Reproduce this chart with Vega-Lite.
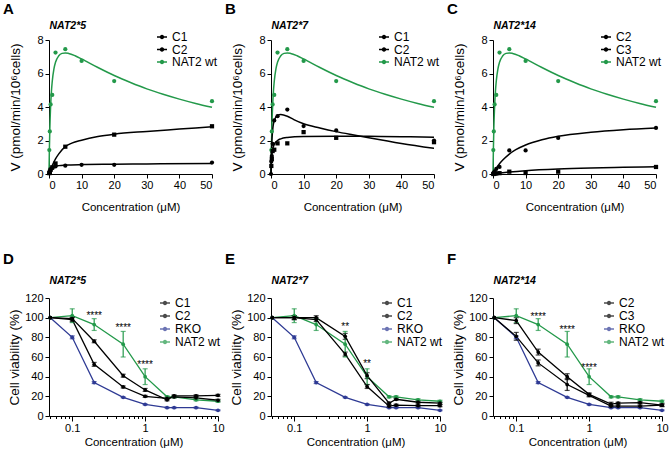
{
"$schema": "https://vega.github.io/schema/vega-lite/v6.json",
"padding": {"left": 3, "top": 2, "right": 2, "bottom": 0},
"background": "white",
"config": {
  "font": "Liberation Sans",
  "view": {"stroke": null},
  "axis": {"grid": false, "domainColor": "#000", "tickColor": "#000", "labelColor": "#000", "titleColor": "#000", "labelFontSize": 11, "titleFontWeight": "normal", "tickSize": 4, "labelPadding": 2, "labelOverlap": false},
  "axisX": {"titleFontSize": 11.5, "labelPadding": 1},
  "axisY": {"titleFontSize": 13.5, "labelOverlap": false, "labelFlush": false},
  "legend": {"labelFontSize": 12, "padding": 0, "rowPadding": 0.5, "symbolStrokeWidth": 1.5, "symbolSize": 100, "labelOffset": 4, "labelColor": "#000", "symbolType": "M-1,0H1M-0.3,0A0.3,0.3,0,1,1,0.3,0A0.3,0.3,0,1,1,-0.3,0M-0.1,0A0.1,0.1,0,1,1,0.1,0A0.1,0.1,0,1,1,-0.1,0"},
  "title": {"color": "#000", "anchor": "start", "frame": "group", "dx": -46, "fontSize": 15, "fontWeight": "bold", "offset": 3}
},
"datasets": {
  "kfit": [
    {"p":"all","s":"NAT2 wt","c":0,"v":0},{"p":"all","s":"NAT2 wt","c":0.1,"v":1.29},{"p":"all","s":"NAT2 wt","c":0.25,"v":2.64},{"p":"all","s":"NAT2 wt","c":0.5,"v":4.07},{"p":"all","s":"NAT2 wt","c":0.75,"v":4.95},{"p":"all","s":"NAT2 wt","c":1,"v":5.54},{"p":"all","s":"NAT2 wt","c":1.5,"v":6.26},{"p":"all","s":"NAT2 wt","c":2,"v":6.67},{"p":"all","s":"NAT2 wt","c":3,"v":7.06},{"p":"all","s":"NAT2 wt","c":4,"v":7.2},{"p":"all","s":"NAT2 wt","c":5,"v":7.23},{"p":"all","s":"NAT2 wt","c":6,"v":7.2},{"p":"all","s":"NAT2 wt","c":8,"v":7.06},{"p":"all","s":"NAT2 wt","c":10,"v":6.87},{"p":"all","s":"NAT2 wt","c":15,"v":6.36},{"p":"all","s":"NAT2 wt","c":20,"v":5.88},{"p":"all","s":"NAT2 wt","c":25,"v":5.46},{"p":"all","s":"NAT2 wt","c":30,"v":5.08},{"p":"all","s":"NAT2 wt","c":35,"v":4.76},{"p":"all","s":"NAT2 wt","c":40,"v":4.47},{"p":"all","s":"NAT2 wt","c":45,"v":4.21},{"p":"all","s":"NAT2 wt","c":50,"v":3.98},
    {"p":"A","s":"C1","c":0,"v":0},{"p":"A","s":"C1","c":0.5,"v":0.27},{"p":"A","s":"C1","c":1,"v":0.5},{"p":"A","s":"C1","c":2,"v":0.9},{"p":"A","s":"C1","c":3,"v":1.2},{"p":"A","s":"C1","c":5,"v":1.63},{"p":"A","s":"C1","c":7,"v":1.84},{"p":"A","s":"C1","c":10,"v":2.02},{"p":"A","s":"C1","c":15,"v":2.24},{"p":"A","s":"C1","c":20,"v":2.38},{"p":"A","s":"C1","c":30,"v":2.54},{"p":"A","s":"C1","c":40,"v":2.68},{"p":"A","s":"C1","c":50,"v":2.82},
    {"p":"A","s":"C2","c":0,"v":0},{"p":"A","s":"C2","c":0.25,"v":0.2},{"p":"A","s":"C2","c":0.5,"v":0.3},{"p":"A","s":"C2","c":1,"v":0.4},{"p":"A","s":"C2","c":2,"v":0.47},{"p":"A","s":"C2","c":3,"v":0.5},{"p":"A","s":"C2","c":5,"v":0.53},{"p":"A","s":"C2","c":10,"v":0.56},{"p":"A","s":"C2","c":20,"v":0.58},{"p":"A","s":"C2","c":30,"v":0.6},{"p":"A","s":"C2","c":50,"v":0.62},
    {"p":"B","s":"C1","c":0,"v":0},{"p":"B","s":"C1","c":0.1,"v":1.0},{"p":"B","s":"C1","c":0.25,"v":1.9},{"p":"B","s":"C1","c":0.5,"v":2.6},{"p":"B","s":"C1","c":1,"v":3.2},{"p":"B","s":"C1","c":2,"v":3.5},{"p":"B","s":"C1","c":3,"v":3.55},{"p":"B","s":"C1","c":5,"v":3.45},{"p":"B","s":"C1","c":7,"v":3.25},{"p":"B","s":"C1","c":10,"v":3.0},{"p":"B","s":"C1","c":15,"v":2.75},{"p":"B","s":"C1","c":20,"v":2.53},{"p":"B","s":"C1","c":25,"v":2.34},{"p":"B","s":"C1","c":30,"v":2.16},{"p":"B","s":"C1","c":40,"v":1.82},{"p":"B","s":"C1","c":50,"v":1.53},
    {"p":"B","s":"C2","c":0,"v":0},{"p":"B","s":"C2","c":0.1,"v":0.6},{"p":"B","s":"C2","c":0.25,"v":1.05},{"p":"B","s":"C2","c":0.5,"v":1.45},{"p":"B","s":"C2","c":1,"v":1.77},{"p":"B","s":"C2","c":2,"v":2.0},{"p":"B","s":"C2","c":3,"v":2.1},{"p":"B","s":"C2","c":5,"v":2.18},{"p":"B","s":"C2","c":10,"v":2.24},{"p":"B","s":"C2","c":20,"v":2.26},{"p":"B","s":"C2","c":30,"v":2.25},{"p":"B","s":"C2","c":40,"v":2.23},{"p":"B","s":"C2","c":50,"v":2.2},
    {"p":"C","s":"C2","c":0,"v":0},{"p":"C","s":"C2","c":1,"v":0.34},{"p":"C","s":"C2","c":2,"v":0.61},{"p":"C","s":"C2","c":3,"v":0.83},{"p":"C","s":"C2","c":5,"v":1.19},{"p":"C","s":"C2","c":7,"v":1.45},{"p":"C","s":"C2","c":10,"v":1.73},{"p":"C","s":"C2","c":15,"v":2.04},{"p":"C","s":"C2","c":20,"v":2.25},{"p":"C","s":"C2","c":30,"v":2.49},{"p":"C","s":"C2","c":40,"v":2.64},{"p":"C","s":"C2","c":50,"v":2.74},
    {"p":"C","s":"C3","c":0,"v":0},{"p":"C","s":"C3","c":2,"v":0.06},{"p":"C","s":"C3","c":5,"v":0.12},{"p":"C","s":"C3","c":10,"v":0.2},{"p":"C","s":"C3","c":20,"v":0.3},{"p":"C","s":"C3","c":30,"v":0.36},{"p":"C","s":"C3","c":40,"v":0.4},{"p":"C","s":"C3","c":50,"v":0.43}
  ],
  "kpts": [
    {"p":"all","s":"NAT2 wt","c":0.1,"v":1.43},{"p":"all","s":"NAT2 wt","c":0.25,"v":2.54},{"p":"all","s":"NAT2 wt","c":0.5,"v":4.15},{"p":"all","s":"NAT2 wt","c":1,"v":4.72},{"p":"all","s":"NAT2 wt","c":2,"v":7.25},{"p":"all","s":"NAT2 wt","c":5,"v":7.45},{"p":"all","s":"NAT2 wt","c":10,"v":6.75},{"p":"all","s":"NAT2 wt","c":20,"v":5.55},{"p":"all","s":"NAT2 wt","c":50,"v":4.35},
    {"p":"A","s":"C1","c":0.1,"v":0.05},{"p":"A","s":"C1","c":0.25,"v":0.12},{"p":"A","s":"C1","c":0.5,"v":0.25},{"p":"A","s":"C1","c":1,"v":0.4},{"p":"A","s":"C1","c":2,"v":0.63},{"p":"A","s":"C1","c":5,"v":1.63},{"p":"A","s":"C1","c":20,"v":2.35},{"p":"A","s":"C1","c":50,"v":2.85},
    {"p":"A","s":"C2","c":0.1,"v":0.05},{"p":"A","s":"C2","c":0.25,"v":0.15},{"p":"A","s":"C2","c":0.5,"v":0.28},{"p":"A","s":"C2","c":1,"v":0.35},{"p":"A","s":"C2","c":2,"v":0.45},{"p":"A","s":"C2","c":5,"v":0.5},{"p":"A","s":"C2","c":10,"v":0.55},{"p":"A","s":"C2","c":20,"v":0.55},{"p":"A","s":"C2","c":50,"v":0.68},
    {"p":"B","s":"C1","c":0,"v":0},{"p":"B","s":"C1","c":0.1,"v":0.75},{"p":"B","s":"C1","c":0.25,"v":1.07},{"p":"B","s":"C1","c":0.5,"v":1.8},{"p":"B","s":"C1","c":1,"v":3.2},{"p":"B","s":"C1","c":2,"v":3.45},{"p":"B","s":"C1","c":5,"v":3.85},{"p":"B","s":"C1","c":10,"v":2.86},{"p":"B","s":"C1","c":20,"v":2.6},{"p":"B","s":"C1","c":50,"v":2.0},
    {"p":"B","s":"C2","c":0.1,"v":0.48},{"p":"B","s":"C2","c":0.25,"v":0.9},{"p":"B","s":"C2","c":0.5,"v":1.37},{"p":"B","s":"C2","c":1,"v":1.45},{"p":"B","s":"C2","c":2,"v":1.83},{"p":"B","s":"C2","c":5,"v":1.83},{"p":"B","s":"C2","c":10,"v":2.5},{"p":"B","s":"C2","c":20,"v":2.16},{"p":"B","s":"C2","c":50,"v":1.9},
    {"p":"C","s":"C2","c":0.1,"v":0.02},{"p":"C","s":"C2","c":0.25,"v":0.08},{"p":"C","s":"C2","c":0.5,"v":0.15},{"p":"C","s":"C2","c":1,"v":0.3},{"p":"C","s":"C2","c":2,"v":0.42},{"p":"C","s":"C2","c":5,"v":1.41},{"p":"C","s":"C2","c":10,"v":1.41},{"p":"C","s":"C2","c":20,"v":2.15},{"p":"C","s":"C2","c":50,"v":2.75},
    {"p":"C","s":"C3","c":0.1,"v":0},{"p":"C","s":"C3","c":0.25,"v":0.01},{"p":"C","s":"C3","c":0.5,"v":0.02},{"p":"C","s":"C3","c":1,"v":0.03},{"p":"C","s":"C3","c":2,"v":0.05},{"p":"C","s":"C3","c":5,"v":0.14},{"p":"C","s":"C3","c":10,"v":0.06},{"p":"C","s":"C3","c":20,"v":0.14},{"p":"C","s":"C3","c":50,"v":0.42}
  ],
  "via": [
    {"p":"all","s":"RKO","c":0.05,"v":100,"e":0},{"p":"all","s":"RKO","c":0.1,"v":80,"e":1.5},{"p":"all","s":"RKO","c":0.2,"v":34,"e":1},{"p":"all","s":"RKO","c":0.5,"v":19,"e":0.5},{"p":"all","s":"RKO","c":1,"v":11.8,"e":0.5},{"p":"all","s":"RKO","c":2,"v":8.5,"e":0.5},{"p":"all","s":"RKO","c":2.5,"v":8.5,"e":0.5},{"p":"all","s":"RKO","c":5,"v":8.5,"e":0.5},{"p":"all","s":"RKO","c":10,"v":5.8,"e":0.5},
    {"p":"all","s":"NAT2 wt","c":0.05,"v":100,"e":0},{"p":"all","s":"NAT2 wt","c":0.1,"v":102,"e":7},{"p":"all","s":"NAT2 wt","c":0.2,"v":93,"e":6},{"p":"all","s":"NAT2 wt","c":0.5,"v":73,"e":13},{"p":"all","s":"NAT2 wt","c":1,"v":40,"e":8},{"p":"all","s":"NAT2 wt","c":2,"v":19.5,"e":1},{"p":"all","s":"NAT2 wt","c":2.5,"v":19.5,"e":1},{"p":"all","s":"NAT2 wt","c":5,"v":16.5,"e":1},{"p":"all","s":"NAT2 wt","c":10,"v":15,"e":1},
    {"p":"D","s":"C1","c":0.05,"v":100,"e":0},{"p":"D","s":"C1","c":0.1,"v":99,"e":1.5},{"p":"D","s":"C1","c":0.2,"v":76,"e":1.5},{"p":"D","s":"C1","c":0.5,"v":41,"e":1.5},{"p":"D","s":"C1","c":1,"v":26.5,"e":1.5},{"p":"D","s":"C1","c":2,"v":16.5,"e":1},{"p":"D","s":"C1","c":2.5,"v":20.5,"e":1},{"p":"D","s":"C1","c":5,"v":20.5,"e":1},{"p":"D","s":"C1","c":10,"v":21,"e":1},
    {"p":"D","s":"C2","c":0.05,"v":100,"e":0},{"p":"D","s":"C2","c":0.1,"v":98,"e":2},{"p":"D","s":"C2","c":0.2,"v":52.5,"e":2},{"p":"D","s":"C2","c":0.5,"v":29.5,"e":1},{"p":"D","s":"C2","c":1,"v":20,"e":1},{"p":"D","s":"C2","c":2,"v":18,"e":1},{"p":"D","s":"C2","c":2.5,"v":19.5,"e":1},{"p":"D","s":"C2","c":5,"v":18.5,"e":1},{"p":"D","s":"C2","c":10,"v":16,"e":1},
    {"p":"E","s":"C1","c":0.05,"v":100,"e":0},{"p":"E","s":"C1","c":0.1,"v":100,"e":2},{"p":"E","s":"C1","c":0.2,"v":100,"e":2},{"p":"E","s":"C1","c":0.5,"v":81,"e":3},{"p":"E","s":"C1","c":1,"v":41,"e":3},{"p":"E","s":"C1","c":2,"v":13,"e":1},{"p":"E","s":"C1","c":2.5,"v":17,"e":1},{"p":"E","s":"C1","c":5,"v":14,"e":1},{"p":"E","s":"C1","c":10,"v":13,"e":1},
    {"p":"E","s":"C2","c":0.05,"v":100,"e":0},{"p":"E","s":"C2","c":0.1,"v":100,"e":2},{"p":"E","s":"C2","c":0.2,"v":98,"e":2},{"p":"E","s":"C2","c":0.5,"v":63,"e":2},{"p":"E","s":"C2","c":1,"v":30,"e":2},{"p":"E","s":"C2","c":2,"v":10,"e":1},{"p":"E","s":"C2","c":2.5,"v":11,"e":1},{"p":"E","s":"C2","c":5,"v":10.5,"e":1},{"p":"E","s":"C2","c":10,"v":10.5,"e":1},
    {"p":"F","s":"C2","c":0.05,"v":100,"e":0},{"p":"F","s":"C2","c":0.1,"v":97,"e":3},{"p":"F","s":"C2","c":0.2,"v":65,"e":3},{"p":"F","s":"C2","c":0.5,"v":40,"e":3},{"p":"F","s":"C2","c":1,"v":22,"e":1.5},{"p":"F","s":"C2","c":2,"v":12,"e":2},{"p":"F","s":"C2","c":2.5,"v":13,"e":1},{"p":"F","s":"C2","c":5,"v":13.5,"e":1},{"p":"F","s":"C2","c":10,"v":11,"e":1.5},
    {"p":"F","s":"C3","c":0.05,"v":100,"e":0},{"p":"F","s":"C3","c":0.1,"v":81,"e":4},{"p":"F","s":"C3","c":0.2,"v":54,"e":3},{"p":"F","s":"C3","c":0.5,"v":32,"e":6},{"p":"F","s":"C3","c":1,"v":21,"e":1.5},{"p":"F","s":"C3","c":2,"v":10,"e":1},{"p":"F","s":"C3","c":2.5,"v":10,"e":1},{"p":"F","s":"C3","c":5,"v":10,"e":1},{"p":"F","s":"C3","c":10,"v":11,"e":1}
  ],
  "stars": [
    {"p":"D","c":0.2,"v":102,"t":"****"},{"p":"D","c":0.5,"v":89,"t":"****"},{"p":"D","c":1,"v":52,"t":"****"},
    {"p":"E","c":0.5,"v":91,"t":"**"},{"p":"E","c":1,"v":53,"t":"**"},
    {"p":"F","c":0.2,"v":101,"t":"****"},{"p":"F","c":0.5,"v":87,"t":"****"},{"p":"F","c":1,"v":49,"t":"****"}
  ]
},
"columns": 3,
"spacing": {"row": 124, "column": 53},
"bounds": "flush",
"resolve": {"scale": {"color": "independent"}, "legend": {"color": "independent"}},
"concat": [
   {
    "width": 163, "height": 134,
    "title": "A",
    "resolve": {"axis": {"x": "independent"}},
    "layer": [
      {"data": {"name": "kfit"}, "transform": [{"filter": "datum.p=='A'||datum.p=='all'"}],
       "mark": {"type": "line", "strokeWidth": 1.5, "interpolate": "monotone"},
       "encoding": {
        "x": {"field": "c", "type": "quantitative", "scale": {"domain": [0, 50], "nice": false}, "axis": {"orient": "bottom", "values": [0,10,20,30,40,50], "labelOverlap": false, "title": "Concentration (μM)", "titlePadding": 11}},
        "y": {"field": "v", "type": "quantitative", "scale": {"domain": [0, 8], "nice": false}, "axis": {"values": [0,2,4,6,8], "labelOverlap": false, "labelFlush": false, "title": "V (pmol/min/10⁶cells)", "titlePadding": 14}},
        "color": {"field": "s", "type": "nominal", "scale": {"domain": ["C1","C2","NAT2 wt"], "range": ["#000000","#000000","#23994a"]}, "legend": {"title": null, "orient": "none", "legendX": 107, "legendY": -9}}
       }},
      {"data": {"name": "kpts"}, "transform": [{"filter": "(datum.p=='A'||datum.p=='all')&&datum.s!='C1'"}],
       "mark": {"type": "point", "filled": true, "size": 18, "opacity": 1},
       "encoding": {"x": {"field": "c", "type": "quantitative", "axis": {"orient": "top", "domain": false, "ticks": false, "labels": false, "title": "NAT2*5", "titleAnchor": "start", "titleAlign": "left", "titleBaseline": "alphabetic", "titleX": 0, "titleY": -12, "titleFontSize": 10.5, "titleFontStyle": "italic", "titleFontWeight": "bold"}}, "y": {"field": "v", "type": "quantitative", "axis": {"values": [0,2,4,6,8], "labelOverlap": false, "labelFlush": false, "title": "V (pmol/min/10⁶cells)", "titlePadding": 14}}, "color": {"field": "s", "type": "nominal"}}},
      {"data": {"name": "kpts"}, "transform": [{"filter": "datum.p=='A'&&datum.s=='C1'"}],
       "mark": {"type": "point", "shape": "square", "filled": true, "size": 18, "opacity": 1},
       "encoding": {"x": {"field": "c", "type": "quantitative", "axis": null}, "y": {"field": "v", "type": "quantitative", "axis": {"values": [0,2,4,6,8], "labelOverlap": false, "labelFlush": false, "title": "V (pmol/min/10⁶cells)", "titlePadding": 14}}, "color": {"field": "s", "type": "nominal"}}}
    ]
   },
   {
    "width": 163, "height": 134,
    "title": "B",
    "resolve": {"axis": {"x": "independent"}},
    "layer": [
      {"data": {"name": "kfit"}, "transform": [{"filter": "datum.p=='B'||datum.p=='all'"}],
       "mark": {"type": "line", "strokeWidth": 1.5, "interpolate": "monotone"},
       "encoding": {
        "x": {"field": "c", "type": "quantitative", "scale": {"domain": [0, 50], "nice": false}, "axis": {"orient": "bottom", "values": [0,10,20,30,40,50], "labelOverlap": false, "title": "Concentration (μM)", "titlePadding": 11}},
        "y": {"field": "v", "type": "quantitative", "scale": {"domain": [0, 8], "nice": false}, "axis": {"values": [0,2,4,6,8], "labelOverlap": false, "labelFlush": false, "title": "V (pmol/min/10⁶cells)", "titlePadding": 14}},
        "color": {"field": "s", "type": "nominal", "scale": {"domain": ["C1","C2","NAT2 wt"], "range": ["#000000","#000000","#23994a"]}, "legend": {"title": null, "orient": "none", "legendX": 107, "legendY": -9}}
       }},
      {"data": {"name": "kpts"}, "transform": [{"filter": "(datum.p=='B'||datum.p=='all')&&datum.s!='C2'"}],
       "mark": {"type": "point", "filled": true, "size": 18, "opacity": 1},
       "encoding": {"x": {"field": "c", "type": "quantitative", "axis": {"orient": "top", "domain": false, "ticks": false, "labels": false, "title": "NAT2*7", "titleAnchor": "start", "titleAlign": "left", "titleBaseline": "alphabetic", "titleX": 0, "titleY": -12, "titleFontSize": 10.5, "titleFontStyle": "italic", "titleFontWeight": "bold"}}, "y": {"field": "v", "type": "quantitative", "axis": {"values": [0,2,4,6,8], "labelOverlap": false, "labelFlush": false, "title": "V (pmol/min/10⁶cells)", "titlePadding": 14}}, "color": {"field": "s", "type": "nominal"}}},
      {"data": {"name": "kpts"}, "transform": [{"filter": "datum.p=='B'&&datum.s=='C2'"}],
       "mark": {"type": "point", "shape": "square", "filled": true, "size": 18, "opacity": 1},
       "encoding": {"x": {"field": "c", "type": "quantitative", "axis": null}, "y": {"field": "v", "type": "quantitative", "axis": {"values": [0,2,4,6,8], "labelOverlap": false, "labelFlush": false, "title": "V (pmol/min/10⁶cells)", "titlePadding": 14}}, "color": {"field": "s", "type": "nominal"}}}
    ]
   },
   {
    "width": 163, "height": 134,
    "title": "C",
    "resolve": {"axis": {"x": "independent"}},
    "layer": [
      {"data": {"name": "kfit"}, "transform": [{"filter": "datum.p=='C'||datum.p=='all'"}],
       "mark": {"type": "line", "strokeWidth": 1.5, "interpolate": "monotone"},
       "encoding": {
        "x": {"field": "c", "type": "quantitative", "scale": {"domain": [0, 50], "nice": false}, "axis": {"orient": "bottom", "values": [0,10,20,30,40,50], "labelOverlap": false, "title": "Concentration (μM)", "titlePadding": 11}},
        "y": {"field": "v", "type": "quantitative", "scale": {"domain": [0, 8], "nice": false}, "axis": {"values": [0,2,4,6,8], "labelOverlap": false, "labelFlush": false, "title": "V (pmol/min/10⁶cells)", "titlePadding": 14}},
        "color": {"field": "s", "type": "nominal", "scale": {"domain": ["C2","C3","NAT2 wt"], "range": ["#000000","#000000","#23994a"]}, "legend": {"title": null, "orient": "none", "legendX": 107, "legendY": -9}}
       }},
      {"data": {"name": "kpts"}, "transform": [{"filter": "(datum.p=='C'||datum.p=='all')&&datum.s!='C3'"}],
       "mark": {"type": "point", "filled": true, "size": 18, "opacity": 1},
       "encoding": {"x": {"field": "c", "type": "quantitative", "axis": {"orient": "top", "domain": false, "ticks": false, "labels": false, "title": "NAT2*14", "titleAnchor": "start", "titleAlign": "left", "titleBaseline": "alphabetic", "titleX": 0, "titleY": -12, "titleFontSize": 10.5, "titleFontStyle": "italic", "titleFontWeight": "bold"}}, "y": {"field": "v", "type": "quantitative", "axis": {"values": [0,2,4,6,8], "labelOverlap": false, "labelFlush": false, "title": "V (pmol/min/10⁶cells)", "titlePadding": 14}}, "color": {"field": "s", "type": "nominal"}}},
      {"data": {"name": "kpts"}, "transform": [{"filter": "datum.p=='C'&&datum.s=='C3'"}],
       "mark": {"type": "point", "shape": "square", "filled": true, "size": 18, "opacity": 1},
       "encoding": {"x": {"field": "c", "type": "quantitative", "axis": null}, "y": {"field": "v", "type": "quantitative", "axis": {"values": [0,2,4,6,8], "labelOverlap": false, "labelFlush": false, "title": "V (pmol/min/10⁶cells)", "titlePadding": 14}}, "color": {"field": "s", "type": "nominal"}}}
    ]
   },
   {
    "width": 169, "height": 118,
    "title": {"text": "D", "offset": 8},
    "resolve": {"axis": {"x": "independent"}},
    "layer": [
      {"data": {"name": "via"}, "transform": [{"filter": "datum.p=='D'||datum.p=='all'"}],
       "mark": {"type": "line", "strokeWidth": 1.3},
       "encoding": {
        "x": {"field": "c", "type": "quantitative", "scale": {"type": "log", "domain": [0.048, 10], "nice": false}, "axis": {"orient": "bottom", "values": [0.05,0.06,0.07,0.08,0.09,0.1,0.2,0.3,0.4,0.5,0.6,0.7,0.8,0.9,1,2,3,4,5,6,7,8,9,10], "format": "~g", "labelExpr": "(datum.value==0.1||datum.value==1||datum.value==10)?datum.label:''", "labelOverlap": false, "labelFlush": false, "tickSize": {"condition": {"test": "datum.value==0.1||datum.value==1||datum.value==10", "value": 5}, "value": 2.5}, "title": "Concentration (μM)", "titlePadding": 3}},
        "y": {"field": "v", "type": "quantitative", "scale": {"domain": [0, 120], "nice": false}, "axis": {"values": [0,20,40,60,80,100,120], "labelOverlap": false, "labelFlush": false, "title": "Cell viability (%)", "titlePadding": 3}},
        "color": {"field": "s", "type": "nominal", "scale": {"domain": ["C1","C2","RKO","NAT2 wt"], "range": ["#000000","#000000","#2e3a94","#23994a"]}, "legend": {"title": null, "orient": "none", "legendX": 110, "legendY": -1, "rowPadding": 1}}
       }},
      {"data": {"name": "via"}, "transform": [{"filter": "(datum.p=='D'||datum.p=='all')&&datum.e>0"}],
       "mark": {"type": "errorbar", "ticks": true, "thickness": 1.2},
       "encoding": {"x": {"field": "c", "type": "quantitative", "axis": null}, "y": {"field": "v", "type": "quantitative", "axis": {"values": [0,20,40,60,80,100,120], "labelOverlap": false, "labelFlush": false, "title": "Cell viability (%)", "titlePadding": 3}}, "yError": {"field": "e"}, "color": {"field": "s", "type": "nominal"}}},
      {"data": {"name": "via"}, "transform": [{"filter": "datum.p=='D'||datum.p=='all'"}],
       "mark": {"type": "point", "filled": true, "size": 14, "opacity": 1},
       "encoding": {"x": {"field": "c", "type": "quantitative", "axis": {"orient": "top", "domain": false, "ticks": false, "labels": false, "title": "NAT2*5", "titleAnchor": "start", "titleAlign": "left", "titleBaseline": "alphabetic", "titleX": 0, "titleY": -15, "titleFontSize": 10.5, "titleFontStyle": "italic", "titleFontWeight": "bold"}}, "y": {"field": "v", "type": "quantitative", "axis": {"values": [0,20,40,60,80,100,120], "labelOverlap": false, "labelFlush": false, "title": "Cell viability (%)", "titlePadding": 3}}, "color": {"field": "s", "type": "nominal"}}},
      {"data": {"name": "stars"}, "transform": [{"filter": "datum.p=='D'"}],
       "mark": {"type": "text", "fontSize": 10, "baseline": "middle", "fill": "#000000"},
       "encoding": {"x": {"field": "c", "type": "quantitative", "axis": null}, "y": {"field": "v", "type": "quantitative", "axis": {"values": [0,20,40,60,80,100,120], "labelOverlap": false, "labelFlush": false, "title": "Cell viability (%)", "titlePadding": 3}}, "text": {"field": "t"}}}
    ]
   },
   {
    "width": 169, "height": 118,
    "title": {"text": "E", "offset": 8},
    "resolve": {"axis": {"x": "independent"}},
    "layer": [
      {"data": {"name": "via"}, "transform": [{"filter": "datum.p=='E'||datum.p=='all'"}],
       "mark": {"type": "line", "strokeWidth": 1.3},
       "encoding": {
        "x": {"field": "c", "type": "quantitative", "scale": {"type": "log", "domain": [0.048, 10], "nice": false}, "axis": {"orient": "bottom", "values": [0.05,0.06,0.07,0.08,0.09,0.1,0.2,0.3,0.4,0.5,0.6,0.7,0.8,0.9,1,2,3,4,5,6,7,8,9,10], "format": "~g", "labelExpr": "(datum.value==0.1||datum.value==1||datum.value==10)?datum.label:''", "labelOverlap": false, "labelFlush": false, "tickSize": {"condition": {"test": "datum.value==0.1||datum.value==1||datum.value==10", "value": 5}, "value": 2.5}, "title": "Concentration (μM)", "titlePadding": 3}},
        "y": {"field": "v", "type": "quantitative", "scale": {"domain": [0, 120], "nice": false}, "axis": {"values": [0,20,40,60,80,100,120], "labelOverlap": false, "labelFlush": false, "title": "Cell viability (%)", "titlePadding": 3}},
        "color": {"field": "s", "type": "nominal", "scale": {"domain": ["C1","C2","RKO","NAT2 wt"], "range": ["#000000","#000000","#2e3a94","#23994a"]}, "legend": {"title": null, "orient": "none", "legendX": 110, "legendY": -1, "rowPadding": 1}}
       }},
      {"data": {"name": "via"}, "transform": [{"filter": "(datum.p=='E'||datum.p=='all')&&datum.e>0"}],
       "mark": {"type": "errorbar", "ticks": true, "thickness": 1.2},
       "encoding": {"x": {"field": "c", "type": "quantitative", "axis": null}, "y": {"field": "v", "type": "quantitative", "axis": {"values": [0,20,40,60,80,100,120], "labelOverlap": false, "labelFlush": false, "title": "Cell viability (%)", "titlePadding": 3}}, "yError": {"field": "e"}, "color": {"field": "s", "type": "nominal"}}},
      {"data": {"name": "via"}, "transform": [{"filter": "datum.p=='E'||datum.p=='all'"}],
       "mark": {"type": "point", "filled": true, "size": 14, "opacity": 1},
       "encoding": {"x": {"field": "c", "type": "quantitative", "axis": {"orient": "top", "domain": false, "ticks": false, "labels": false, "title": "NAT2*7", "titleAnchor": "start", "titleAlign": "left", "titleBaseline": "alphabetic", "titleX": 0, "titleY": -15, "titleFontSize": 10.5, "titleFontStyle": "italic", "titleFontWeight": "bold"}}, "y": {"field": "v", "type": "quantitative", "axis": {"values": [0,20,40,60,80,100,120], "labelOverlap": false, "labelFlush": false, "title": "Cell viability (%)", "titlePadding": 3}}, "color": {"field": "s", "type": "nominal"}}},
      {"data": {"name": "stars"}, "transform": [{"filter": "datum.p=='E'"}],
       "mark": {"type": "text", "fontSize": 10, "baseline": "middle", "fill": "#000000"},
       "encoding": {"x": {"field": "c", "type": "quantitative", "axis": null}, "y": {"field": "v", "type": "quantitative", "axis": {"values": [0,20,40,60,80,100,120], "labelOverlap": false, "labelFlush": false, "title": "Cell viability (%)", "titlePadding": 3}}, "text": {"field": "t"}}}
    ]
   },
   {
    "width": 169, "height": 118,
    "title": {"text": "F", "offset": 8},
    "resolve": {"axis": {"x": "independent"}},
    "layer": [
      {"data": {"name": "via"}, "transform": [{"filter": "datum.p=='F'||datum.p=='all'"}],
       "mark": {"type": "line", "strokeWidth": 1.3},
       "encoding": {
        "x": {"field": "c", "type": "quantitative", "scale": {"type": "log", "domain": [0.048, 10], "nice": false}, "axis": {"orient": "bottom", "values": [0.05,0.06,0.07,0.08,0.09,0.1,0.2,0.3,0.4,0.5,0.6,0.7,0.8,0.9,1,2,3,4,5,6,7,8,9,10], "format": "~g", "labelExpr": "(datum.value==0.1||datum.value==1||datum.value==10)?datum.label:''", "labelOverlap": false, "labelFlush": false, "tickSize": {"condition": {"test": "datum.value==0.1||datum.value==1||datum.value==10", "value": 5}, "value": 2.5}, "title": "Concentration (μM)", "titlePadding": 3}},
        "y": {"field": "v", "type": "quantitative", "scale": {"domain": [0, 120], "nice": false}, "axis": {"values": [0,20,40,60,80,100,120], "labelOverlap": false, "labelFlush": false, "title": "Cell viability (%)", "titlePadding": 3}},
        "color": {"field": "s", "type": "nominal", "scale": {"domain": ["C2","C3","RKO","NAT2 wt"], "range": ["#000000","#000000","#2e3a94","#23994a"]}, "legend": {"title": null, "orient": "none", "legendX": 110, "legendY": -1, "rowPadding": 1}}
       }},
      {"data": {"name": "via"}, "transform": [{"filter": "(datum.p=='F'||datum.p=='all')&&datum.e>0"}],
       "mark": {"type": "errorbar", "ticks": true, "thickness": 1.2},
       "encoding": {"x": {"field": "c", "type": "quantitative", "axis": null}, "y": {"field": "v", "type": "quantitative", "axis": {"values": [0,20,40,60,80,100,120], "labelOverlap": false, "labelFlush": false, "title": "Cell viability (%)", "titlePadding": 3}}, "yError": {"field": "e"}, "color": {"field": "s", "type": "nominal"}}},
      {"data": {"name": "via"}, "transform": [{"filter": "datum.p=='F'||datum.p=='all'"}],
       "mark": {"type": "point", "filled": true, "size": 14, "opacity": 1},
       "encoding": {"x": {"field": "c", "type": "quantitative", "axis": {"orient": "top", "domain": false, "ticks": false, "labels": false, "title": "NAT2*14", "titleAnchor": "start", "titleAlign": "left", "titleBaseline": "alphabetic", "titleX": 0, "titleY": -15, "titleFontSize": 10.5, "titleFontStyle": "italic", "titleFontWeight": "bold"}}, "y": {"field": "v", "type": "quantitative", "axis": {"values": [0,20,40,60,80,100,120], "labelOverlap": false, "labelFlush": false, "title": "Cell viability (%)", "titlePadding": 3}}, "color": {"field": "s", "type": "nominal"}}},
      {"data": {"name": "stars"}, "transform": [{"filter": "datum.p=='F'"}],
       "mark": {"type": "text", "fontSize": 10, "baseline": "middle", "fill": "#000000"},
       "encoding": {"x": {"field": "c", "type": "quantitative", "axis": null}, "y": {"field": "v", "type": "quantitative", "axis": {"values": [0,20,40,60,80,100,120], "labelOverlap": false, "labelFlush": false, "title": "Cell viability (%)", "titlePadding": 3}}, "text": {"field": "t"}}}
    ]
   }
]
}
